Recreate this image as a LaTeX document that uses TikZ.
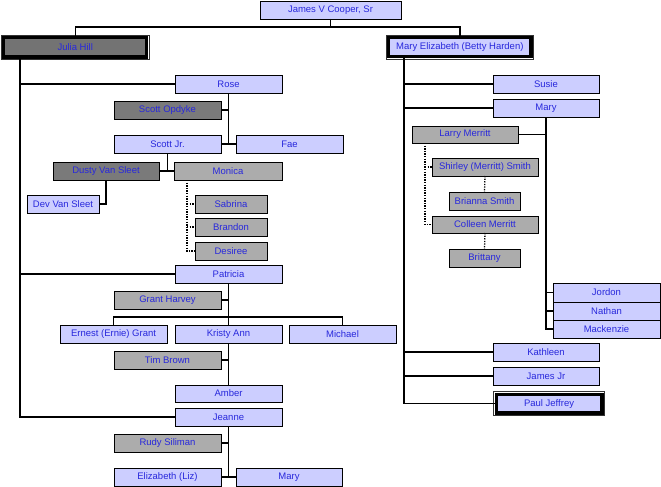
\documentclass[tikz,border=0pt]{standalone}
\usepackage{fontspec}
\setmainfont{Liberation Sans}
\definecolor{lav}{RGB}{204,206,255}
\definecolor{darkg}{RGB}{122,122,122}
\definecolor{lightg}{RGB}{172,172,172}
\definecolor{nametext}{RGB}{40,40,220}
\tikzset{
  pers/.style={draw, line width=0.8pt, fill=lav, text=nametext, anchor=north west,
    font=\fontsize{9.5}{11}\selectfont, inner sep=0pt, outer sep=0pt,
    minimum width=107pt, minimum height=18pt},
  dk/.style={pers, fill=darkg},
  lg/.style={pers, fill=lightg},
  head/.style={line width=3.4pt, minimum width=143pt, minimum height=19.5pt},
  link/.style={line width=1.3pt},
  dotlink/.style={line width=1.3pt, dash pattern=on 1.3pt off 1.3pt},
  frame/.style={line width=0.6pt, draw=black!80}
}
\begin{document}
\begin{tikzpicture}[x=1pt,y=-1pt]
    \useasboundingbox (0,0) rectangle (661,487);

    % left branch
    \node[pers, minimum width=141pt] (james) at (260,1) {James V Cooper, Sr};
    \node[dk, head, fill=darkg!105] (julia) at (3.7,37.5) {Julia Hill};
    \node[pers] (rose) at (175,75) {Rose};
    \node[dk] (opdyke) at (114,101) {Scott Opdyke};
    \node[pers] (scottjr) at (114,135) {Scott Jr.};
    \node[pers] (fae) at (236,135) {Fae};
    \node[dk, minimum width=106pt] (dusty) at (53,162) {Dusty Van Sleet};
    \node[lg, minimum width=108pt] (monica) at (174,162) {Monica};
    \node[pers, minimum width=72pt] (dev) at (27,195) {Dev Van Sleet};
    \node[lg, minimum width=72pt] (sabrina) at (195,195) {Sabrina};
    \node[lg, minimum width=72pt] (brandon) at (195,218) {Brandon};
    \node[lg, minimum width=72pt] (desiree) at (195,242) {Desiree};
    \node[pers] (patricia) at (175,265) {Patricia};
    \node[lg] (grant) at (114,291) {Grant Harvey};
    \node[pers] (ernest) at (60,325) {Ernest (Ernie) Grant};
    \node[pers] (kristy) at (175,325) {Kristy Ann};
    \node[pers] (michael) at (289,325) {Michael};
    \node[lg] (tim) at (114,351) {Tim Brown};
    \node[pers, minimum height=17pt] (amber) at (175,385) {Amber};
    \node[pers] (jeanne) at (175,408) {Jeanne};
    \node[lg] (rudy) at (114,434) {Rudy Siliman};
    \node[pers] (liz) at (114,468) {Elizabeth (Liz)};
    \node[pers, minimum width=106pt] (maryj) at (236,468) {Mary};

    % right branch
    \node[pers, head, minimum width=142.3pt, minimum height=19pt] (maryeliz) at (388.7,37.7) {Mary Elizabeth (Betty Harden)};
    \node[pers, minimum width=106pt] (susie) at (493,75) {Susie};
    \node[pers, minimum width=106pt] (maryr) at (493,99) {Mary};
    \node[lg, minimum width=106pt, minimum height=17pt] (larry) at (412,126) {Larry Merritt};
    \node[lg, minimum width=106pt] (shirley) at (432,158) {Shirley (Merritt) Smith};
    \node[lg, minimum width=71pt] (brianna) at (449,192) {Brianna Smith};
    \node[lg, minimum width=106pt, minimum height=17pt] (colleen) at (432,216) {Colleen Merritt};
    \node[lg, minimum width=71pt] (brittany) at (449,249) {Brittany};
    \node[pers, minimum height=19pt] (jordon) at (553,283) {Jordon};
    \node[pers] (nathan) at (553,302) {Nathan};
    \node[pers] (mackenzie) at (553,320) {Mackenzie};
    \node[pers, minimum width=106pt] (kathleen) at (493,343) {Kathleen};
    \node[pers, minimum width=106pt] (jamesjr) at (493,367) {James Jr};
    \node[pers, head, minimum width=105.5pt, minimum height=18.7pt] (paul) at (496.3,394.3) {Paul Jeffrey};

    \foreach \n in {julia,maryeliz,paul}
        \draw[frame] ([shift={(-2.6pt,2.6pt)}]\n.north west) rectangle ([shift={(2.6pt,-2.6pt)}]\n.south east);

    \coordinate (topbar) at (330,27);
    \coordinate (lspine) at (20,0);
    \coordinate (rspine) at (404,0);
    \coordinate (pbar) at ([yshift=8pt]kristy.north);
    \coordinate (mdot) at ([xshift=13pt]monica.south west);
    \coordinate (ldot) at ([xshift=13pt]larry.south west);

    % top
    \draw[link](james.south)--(james.south |- topbar);
    \draw[link](julia.north)|-(maryeliz.north |- topbar)--(maryeliz.north);

    % Julia Hill
    \draw[link](lspine |- julia.south)|-(jeanne.west);
    \draw[link](lspine |- rose.west)--(rose.west);
    \draw[link](lspine |- patricia.west)--(patricia.west);
    \draw[link](rose.south)--(rose.south |- fae.west);
    \draw[link](opdyke.east)--(opdyke.east -| rose.south);
    \draw[link](scottjr.east)--(fae.west);
    \draw[link](scottjr.south)--(scottjr.south |- monica.west);
    \draw[link](dusty.east)--(monica.west);
    \draw[link](dusty.south)|-(dev.east);
    \draw[dotlink](mdot)|-(desiree.west);
    \draw[dotlink](mdot |- sabrina.west)--(sabrina.west);
    \draw[dotlink](mdot |- brandon.west)--(brandon.west);
    \draw[link](patricia.south)--(kristy.north);
    \draw[link](grant.east)--(grant.east -| patricia.south);
    \draw[link](ernest.north)|-(pbar)-|(michael.north);
    \draw[link](kristy.south)--(amber.north);
    \draw[link](tim.east)--(tim.east -| kristy.south);
    \draw[link](jeanne.south)--(jeanne.south |- maryj.west);
    \draw[link](rudy.east)--(rudy.east -| jeanne.south);
    \draw[link](liz.east)--(maryj.west);

    % Mary Elizabeth
    \draw[link](rspine |- maryeliz.south)|-(paul.west);
    \draw[link](rspine |- susie.west)--(susie.west);
    \draw[link](rspine |- maryr.west)--(maryr.west);
    \draw[link](rspine |- kathleen.west)--(kathleen.west);
    \draw[link](rspine |- jamesjr.west)--(jamesjr.west);
    \draw[link](maryr.south)|-(mackenzie.west);
    \draw[link](larry.east)--(larry.east -| maryr.south);
    \draw[link](maryr.south |- jordon.west)--(jordon.west);
    \draw[link](maryr.south |- nathan.west)--(nathan.west);
    \draw[dotlink](ldot)|-(colleen.west);
    \draw[dotlink](ldot |- shirley.west)--(shirley.west);
    \draw[dotlink](shirley.south)--(brianna.north);
    \draw[dotlink](colleen.south)--(brittany.north);
\end{tikzpicture}
\end{document}
